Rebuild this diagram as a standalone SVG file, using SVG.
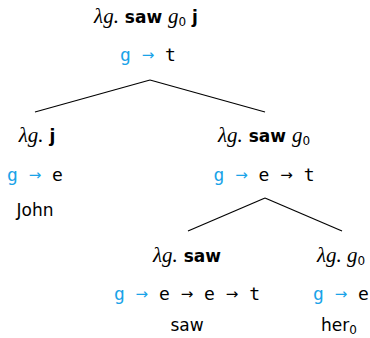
<svg xmlns="http://www.w3.org/2000/svg" width="370" height="338" viewBox="0 0 370 338">
<style>
.lam{font-family:"Liberation Serif","DejaVu Serif",serif;font-style:italic;font-size:21px;fill:#000}
.b{font-family:"DejaVu Sans","Noto Sans",sans-serif;font-weight:bold;font-style:normal;font-size:17px}
.sub{font-family:"DejaVu Sans",sans-serif;font-style:normal;font-size:12px}
.ty{font-family:"DejaVu Sans Mono","Liberation Mono",monospace;font-size:18px;fill:#000}
.g{fill:#1aa3e8}
.ar{font-family:"DejaVu Sans",sans-serif;font-size:15px}
.w{font-family:"DejaVu Sans","Noto Sans",sans-serif;font-size:17px;fill:#000}
.e{stroke:#000;stroke-width:1.2;fill:none}
</style>
<g id="edges">
<line class="e" x1="150" y1="80" x2="35" y2="112"/>
<line class="e" x1="150" y1="80" x2="265" y2="112"/>
<line class="e" x1="265" y1="198" x2="188" y2="231"/>
<line class="e" x1="265" y1="198" x2="342" y2="231"/>
</g>
<g id="root">
<text class="lam" x="146" y="23" text-anchor="middle">λg.<tspan class="b"> saw </tspan>g<tspan class="sub" dy="3">0</tspan><tspan class="b" dy="-3"> j</tspan></text>
<text class="ty" x="148" y="61" text-anchor="middle"><tspan class="g">g <tspan class="ar" dy="-1">→</tspan></tspan><tspan dy="1"> t</tspan></text>
</g>
<g id="john">
<text class="lam" x="37" y="142" text-anchor="middle">λg.<tspan class="b"> j</tspan></text>
<text class="ty" x="35" y="181" text-anchor="middle"><tspan class="g">g <tspan class="ar" dy="-1">→</tspan></tspan><tspan dy="1"> e</tspan></text>
<text class="w" x="35" y="216" text-anchor="middle">John</text>
</g>
<g id="vp">
<text class="lam" x="264" y="142" text-anchor="middle">λg.<tspan class="b"> saw </tspan>g<tspan class="sub" dy="3">0</tspan></text>
<text class="ty" x="264" y="181" text-anchor="middle"><tspan class="g">g <tspan class="ar" dy="-1">→</tspan></tspan><tspan dy="1"> e </tspan><tspan class="ar" dy="-1">→</tspan><tspan dy="1"> t</tspan></text>
</g>
<g id="saw">
<text class="lam" x="187" y="262" text-anchor="middle">λg.<tspan class="b"> saw</tspan></text>
<text class="ty" x="187" y="300" text-anchor="middle"><tspan class="g">g <tspan class="ar" dy="-1">→</tspan></tspan><tspan dy="1"> e </tspan><tspan class="ar" dy="-1">→</tspan><tspan dy="1"> e </tspan><tspan class="ar" dy="-1">→</tspan><tspan dy="1"> t</tspan></text>
<text class="w" x="187" y="331" text-anchor="middle">saw</text>
</g>
<g id="her">
<text class="lam" x="341" y="262" text-anchor="middle">λg. g<tspan class="sub" dy="3">0</tspan></text>
<text class="ty" x="341" y="300" text-anchor="middle"><tspan class="g">g <tspan class="ar" dy="-1">→</tspan></tspan><tspan dy="1"> e</tspan></text>
<text class="w" x="339" y="331" text-anchor="middle">her<tspan class="sub" dy="3">0</tspan></text>
</g>
</svg>
